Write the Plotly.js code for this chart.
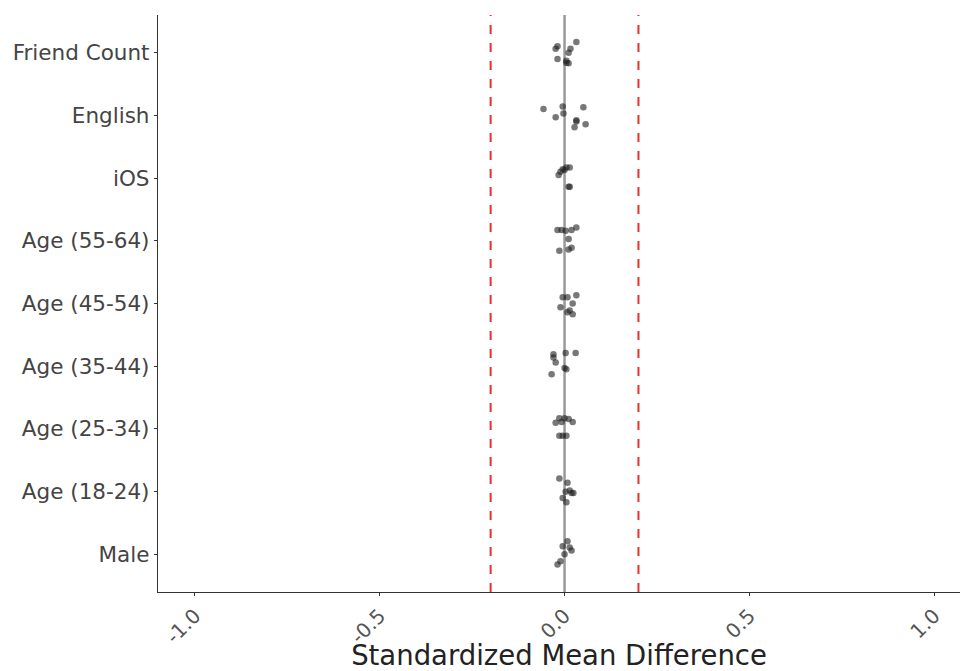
<!DOCTYPE html>
<html>
<head>
<meta charset="utf-8">
<script src="https://cdn.plot.ly/plotly-3.0.1.min.js"></script>
<style>html,body{margin:0;padding:0;background:#fff;overflow:hidden;}#chart{width:963px;height:671px;}</style>
</head>
<body>
<div id="chart"></div>
<script>
// Categories bottom -> top
const categories = ["Male", "Age (18-24)", "Age (25-34)", "Age (35-44)", "Age (45-54)", "Age (55-64)", "iOS", "English", "Friend Count"];

// Standardized mean differences per covariate (x) and vertical jitter (dy, in category units)
const maleX = [0.008, -0.005, 0.014, 0.019, 0.0, -0.011, -0.019];
const maleDy = [0.21, 0.13, 0.11, 0.06, 0.0, -0.11, -0.16];
const age1824X = [-0.014, 0.008, 0.003, 0.019, 0.024, -0.005, 0.005, 0.014];
const age1824Dy = [0.21, 0.14, 0.0, -0.02, -0.02, -0.10, -0.17, 0.02];
const age2534X = [-0.014, 0.0, 0.011, 0.022, -0.024, -0.008, -0.014, 0.005, -0.005];
const age2534Dy = [0.17, 0.17, 0.16, 0.11, 0.10, 0.11, -0.11, -0.11, -0.11];
const age3544X = [-0.030, 0.003, 0.030, -0.024, 0.0, 0.005, -0.035, -0.030];
const age3544Dy = [0.19, 0.21, 0.21, 0.06, -0.03, -0.05, -0.13, 0.14];
const age4554X = [-0.005, 0.008, 0.032, 0.022, -0.011, 0.008, 0.022, 0.014];
const age4554Dy = [0.10, 0.10, 0.13, 0.0, -0.06, -0.14, -0.17, -0.11];
const age5564X = [-0.019, -0.008, 0.003, 0.019, 0.032, 0.011, -0.014, 0.011, 0.019];
const age5564Dy = [0.17, 0.17, 0.16, 0.17, 0.21, 0.03, -0.16, -0.14, -0.11];
const iosX = [0.005, 0.014, -0.005, -0.011, -0.016, 0.0, 0.011, 0.014];
const iosDy = [0.17, 0.17, 0.14, 0.10, 0.05, 0.13, -0.14, -0.14];
const englishX = [-0.057, -0.005, 0.051, -0.024, -0.003, 0.032, 0.057, 0.027, 0.032];
const englishDy = [0.10, 0.14, 0.13, -0.03, 0.03, -0.08, -0.14, -0.19, -0.10];
const friendX = [0.032, -0.019, -0.024, 0.016, 0.011, -0.019, 0.005, 0.011, 0.005];
const friendDy = [0.17, 0.10, 0.06, 0.06, 0.0, -0.10, -0.16, -0.17, -0.13];

const seriesX = [maleX, age1824X, age2534X, age3544X, age4554X, age5564X, iosX, englishX, friendX];
const seriesDy = [maleDy, age1824Dy, age2534Dy, age3544Dy, age4554Dy, age5564Dy, iosDy, englishDy, friendDy];

const thresholds = [-0.2, 0.2];
const zeroLine = 0;
const xTicks = [-1.0, -0.5, 0.0, 0.5, 1.0];
const xTickText = ["-1.0", "-0.5", "0.0", "0.5", "1.0"];

let xs = [], ys = [];
seriesX.forEach((arr, i) => {
  arr.forEach((v, j) => { xs.push(v); ys.push(i + seriesDy[i][j]); });
});

const traces = [{
  type: "scatter", mode: "markers", x: xs, y: ys,
  marker: {color: "rgba(30,30,30,0.6)", size: 6.5},
  hoverinfo: "x", showlegend: false
}];

const shapes = [{
  type: "line", xref: "x", yref: "paper", x0: zeroLine, x1: zeroLine, y0: 0, y1: 1,
  line: {color: "#999", width: 2.5}, layer: "below"
}];
thresholds.forEach(t => shapes.push({
  type: "line", xref: "x", yref: "paper", x0: t, x1: t, y0: 0, y1: 1,
  line: {color: "#e8312b", width: 2, dash: "dash"}, layer: "above"
}));

const layout = {
  width: 963, height: 671,
  margin: {l: 158, r: 3, t: 15, b: 79},
  paper_bgcolor: "#fff", plot_bgcolor: "#fff",
  font: {family: "DejaVu Sans", color: "#444"},
  showlegend: false,
  shapes: shapes,
  xaxis: {
    range: [-1.1, 1.07], tickvals: xTicks, ticktext: xTickText, tickangle: -45,
    showgrid: false, zeroline: false, showline: true, linecolor: "#333", linewidth: 1.2,
    ticks: "outside", ticklen: 3, tickcolor: "#333",
    tickfont: {size: 20, color: "#555"},
    title: {text: "Standardized Mean Difference", font: {size: 27.5, color: "#222"}, standoff: 0}
  },
  yaxis: {
    range: [-0.6, 8.6], tickvals: categories.map((c, i) => i), ticktext: categories,
    showgrid: false, zeroline: false, showline: true, linecolor: "#333", linewidth: 1.2,
    ticks: "outside", ticklen: 3, tickcolor: "#333",
    tickfont: {size: 21.5, color: "#444"}
  }
};

Plotly.newPlot("chart", traces, layout, {displayModeBar: false, staticPlot: true});
</script>
</body>
</html>
